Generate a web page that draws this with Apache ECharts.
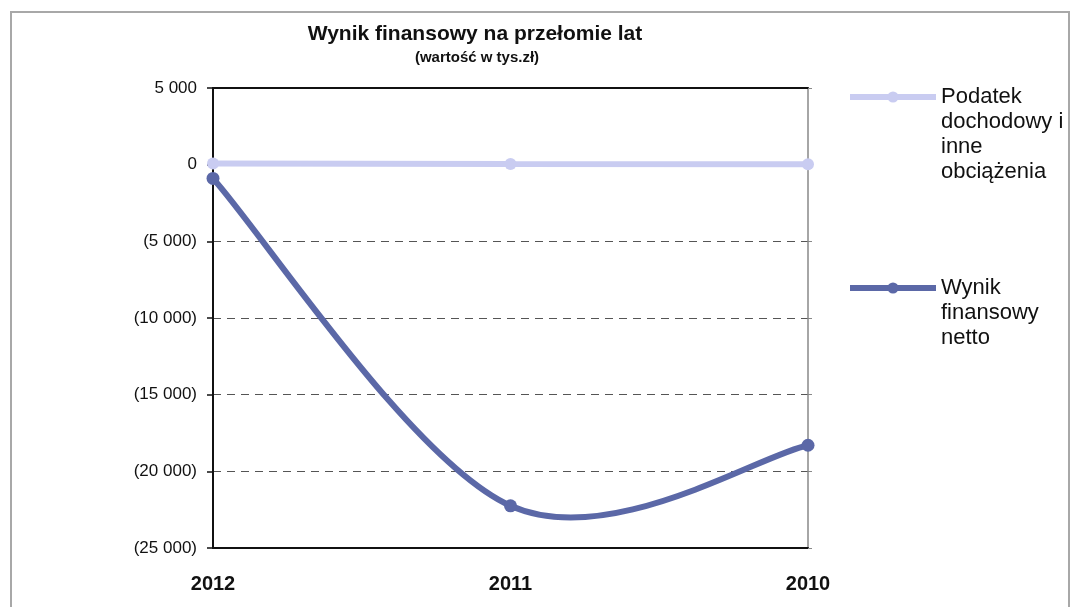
<!DOCTYPE html>
<html>
<head>
<meta charset="utf-8">
<title>Wynik finansowy na przełomie lat</title>
<script src="https://cdn.jsdelivr.net/npm/echarts@6/dist/echarts.min.js"></script>
<style>
  html, body { margin: 0; padding: 0; background: #ffffff; }
  #chart { width: 1080px; height: 607px; }
</style>
</head>
<body>
<div id="chart"></div>
<script>
// Years shown on the category axis
const years = ['2012', '2011', '2010'];

// Values in thousands of PLN
const podatekValues = [80, 40, 30];
const wynikValues = [-900, -22250, -18300];

// Value axis tick range
const yMin = -25000;
const yMax = 5000;
const yStep = 5000;

const podatekName = 'Podatek dochodowy i inne obciążenia';
const wynikName = 'Wynik finansowy netto';
// Leading blank lines keep the first text line level with the legend symbol
const podatekLegend = '\n\n\nPodatek\ndochodowy i\ninne\nobciążenia';
const wynikLegend = '\n\nWynik\nfinansowy\nnetto';

const FONT = '"Liberation Sans", Arial, sans-serif';
const LIGHT = '#c9ccf1';
const DARK = '#5b68a7';

// Accounting style: thousands separated by a space, negatives in brackets
function fmt(v) {
  const abs = Math.abs(v).toString().replace(/\B(?=(\d{3})+(?!\d))/g, ' ');
  return v < 0 ? '(' + abs + ')' : abs;
}

// Smoothed curve through the data points (Catmull-Rom converted to cubic Bézier)
function smoothPath(values, api) {
  const pts = values.map((v, j) => api.coord([j, v]));
  let d = 'M' + pts[0][0] + ' ' + pts[0][1];
  for (let j = 0; j < pts.length - 1; j++) {
    const p0 = pts[Math.max(j - 1, 0)];
    const p1 = pts[j];
    const p2 = pts[j + 1];
    const p3 = pts[Math.min(j + 2, pts.length - 1)];
    const c1x = p1[0] + (p2[0] - p0[0]) / 6;
    const c1y = p1[1] + (p2[1] - p0[1]) / 6;
    const c2x = p2[0] - (p3[0] - p1[0]) / 6;
    const c2y = p2[1] - (p3[1] - p1[1]) / 6;
    d += ' C' + c1x + ' ' + c1y + ' ' + c2x + ' ' + c2y + ' ' + p2[0] + ' ' + p2[1];
  }
  return d;
}

const chart = echarts.init(document.getElementById('chart'), null, { renderer: 'canvas' });

const legendBase = {
  orient: 'vertical',
  left: 847,
  padding: 0,
  itemWidth: 86,
  itemHeight: 14,
  itemGap: 4,
  textStyle: {
    fontFamily: FONT,
    fontSize: 22,
    lineHeight: 25,
    color: '#111'
  }
};

chart.setOption({
  animation: false,
  backgroundColor: '#ffffff',
  textStyle: { fontFamily: FONT },
  title: [
    {
      text: 'Wynik finansowy na przełomie lat',
      left: 470,
      top: 19,
      textAlign: 'center',
      textStyle: { fontFamily: FONT, fontSize: 21, fontWeight: 'bold', color: '#111' }
    },
    {
      text: '(wartość w tys.zł)',
      left: 472,
      top: 45,
      textAlign: 'center',
      textStyle: { fontFamily: FONT, fontSize: 15, fontWeight: 'bold', color: '#111' }
    }
  ],
  legend: [
    Object.assign({}, legendBase, {
      data: [podatekName],
      top: 9.5,
      formatter: () => podatekLegend,
      lineStyle: { color: LIGHT, width: 6, opacity: 1 }
    }),
    Object.assign({}, legendBase, {
      data: [wynikName],
      top: 225.5,
      formatter: () => wynikLegend,
      lineStyle: { color: DARK, width: 6, opacity: 1 }
    })
  ],
  grid: { left: 213, right: 272, top: 88, bottom: 59, containLabel: false },
  xAxis: [
    {
      type: 'category',
      data: years,
      boundaryGap: false,
      position: 'bottom',
      axisLine: { onZero: false, lineStyle: { color: '#111', width: 2 } },
      axisTick: { show: false },
      axisLabel: {
        margin: 26,
        fontFamily: FONT,
        fontSize: 20,
        fontWeight: 'bold',
        color: '#111'
      },
      splitLine: { show: false }
    },
    {
      type: 'category',
      data: years,
      boundaryGap: false,
      position: 'top',
      axisLine: { onZero: false, lineStyle: { color: '#111', width: 2 } },
      axisTick: { show: false },
      axisLabel: { show: false },
      splitLine: { show: false }
    }
  ],
  yAxis: [
    {
      type: 'value',
      min: yMin,
      max: yMax,
      interval: yStep,
      position: 'left',
      axisLine: { show: true, onZero: false, lineStyle: { color: '#111', width: 2 } },
      axisTick: { show: true, length: 6, lineStyle: { color: '#111', width: 1.5 } },
      axisLabel: {
        margin: 16,
        fontFamily: FONT,
        fontSize: 17,
        color: '#111',
        formatter: fmt
      },
      splitLine: {
        show: true,
        lineStyle: { color: '#555', width: 1, type: [8, 6] }
      }
    },
    {
      type: 'value',
      min: yMin,
      max: yMax,
      interval: yStep,
      position: 'right',
      axisLine: { show: true, onZero: false, lineStyle: { color: '#888', width: 1.5 } },
      axisTick: { show: true, length: 4, lineStyle: { color: '#888' } },
      axisLabel: { show: false },
      splitLine: { show: false }
    }
  ],
  series: [
    {
      name: podatekName,
      type: 'line',
      data: podatekValues,
      symbol: 'circle',
      symbolSize: 12,
      lineStyle: { color: LIGHT, width: 6 },
      itemStyle: { color: LIGHT },
      z: 3
    },
    {
      // markers and legend entry of the net result
      name: wynikName,
      type: 'line',
      data: wynikValues,
      symbol: 'circle',
      symbolSize: 13,
      lineStyle: { color: DARK, width: 6, opacity: 0 },
      itemStyle: { color: DARK },
      z: 5
    },
    {
      // smoothed line of the net result
      type: 'custom',
      coordinateSystem: 'cartesian2d',
      data: wynikValues.map((v, i) => [i, v]),
      renderItem: (params, api) => {
        if (params.dataIndex !== 0) return null;
        return {
          type: 'path',
          shape: { pathData: smoothPath(wynikValues, api) },
          style: { fill: 'none', stroke: DARK, lineWidth: 6, lineCap: 'round', lineJoin: 'round' }
        };
      },
      silent: true,
      z: 4
    }
  ],
  graphic: [
    {
      type: 'rect',
      shape: { x: 11, y: 12, width: 1058, height: 600 },
      style: { fill: 'none', stroke: '#a8a8a8', lineWidth: 2 },
      silent: true,
      z: -1
    }
  ]
});
</script>
</body>
</html>
